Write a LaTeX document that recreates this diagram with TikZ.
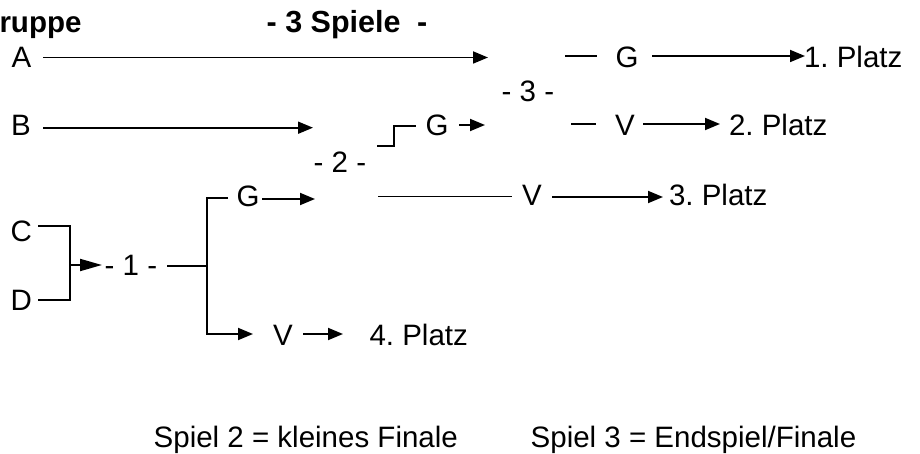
\documentclass[tikz,border=0pt]{standalone}
\usepackage{fontspec}
\setmainfont{Liberation Sans}
\usetikzlibrary{arrows.meta}
\frenchspacing
\begin{document}
\begin{tikzpicture}[x=1pt,y=-1pt,
  lbl/.style={anchor=base west,inner sep=0pt,outer sep=0pt,font=\fontsize{29.5}{34}\selectfont\frenchspacing},
  ttl/.style={lbl,font=\fontsize{29.5}{34}\selectfont\bfseries},
  ln/.style={line width=1.8pt},
  arr/.style={ln,-{Triangle[length=15pt,width=12pt]}},
  bigarr/.style={ln,-{Triangle[length=22pt,width=12pt]}}]
\useasboundingbox (0,0) rectangle (920,454);
% titles
\node[ttl] (t1) at (-0.5,33) {ruppe};
\node[ttl,font=\fontsize{30.5}{34}\selectfont\bfseries] (t2) at (266.7,33) {- 3 Spiele \hspace{8pt}-};
% teams
\node[lbl] (A) at (11.5,68) {A};
\node[lbl] (B) at (11,136) {B};
\node[lbl] (C) at (10.6,242) {C};
\node[lbl] (D) at (10.7,310) {D};
% game labels
\node[lbl] (g1) at (104.7,276) {- 1 -};
\node[lbl] (g2) at (313.7,173) {- 2 -};
\node[lbl] (g3) at (501.7,102) {- 3 -};
% results
\node[lbl] (G1) at (236.6,207) {G};
\node[lbl] (V1) at (273,345) {V};
\node[lbl] (G2) at (425.6,136) {G};
\node[lbl] (V2) at (522,206) {V};
\node[lbl] (G3) at (615.6,68) {G};
\node[lbl] (V3) at (615,136) {V};
% places
\node[lbl] (p1) at (804,68) {1. Platz};
\node[lbl] (p2) at (729,136) {2. Platz};
\node[lbl] (p3) at (669,206) {3. Platz};
\node[lbl] (p4) at (369.5,345) {4. Platz};
% footnotes
\node[lbl] (n2) at (153.7,447) {Spiel 2 = kleines Finale};
\node[lbl] (n3) at (530.7,447) {Spiel 3 = Endspiel/Finale};
% coordinates
\coordinate (a0) at (43,57.5);   \coordinate (a1) at (488,57.5);
\coordinate (b0) at (43,127.7);  \coordinate (b1) at (313,127.7);
\coordinate (c0) at (38,226);    \coordinate (c1) at (70,226);
\coordinate (d0) at (38,300);    \coordinate (d1) at (70,300);
\coordinate (e0) at (70,265);    \coordinate (e1) at (102,265);
\coordinate (f0) at (167,266);   \coordinate (f1) at (207,266);
\coordinate (h0) at (228,198);   \coordinate (h1) at (207,198);
\coordinate (h2) at (207,334);   \coordinate (h3) at (253,334);
\coordinate (v10) at (303,334);  \coordinate (v11) at (343,334);
\coordinate (g10) at (262,199);  \coordinate (g11) at (315,199);
\coordinate (s0) at (377,145.7); \coordinate (s1) at (394,145.7);
\coordinate (s2) at (394,126);   \coordinate (s3) at (416,126);
\coordinate (g20) at (459,125);  \coordinate (g21) at (485,125);
\coordinate (l0) at (378,196.5); \coordinate (l1) at (512,196.5);
\coordinate (v20) at (552,197);  \coordinate (v21) at (663,197);
\coordinate (m0) at (565,56);    \coordinate (m1) at (597,56);
\coordinate (g30) at (652,56);   \coordinate (g31) at (805,56);
\coordinate (n0) at (571,124);   \coordinate (n1) at (596,124);
\coordinate (v30) at (643,124);  \coordinate (v31) at (720,124);
% connectors
\draw[arr] (a0) -- (a1);
\draw[arr] (b0) -- (b1);
\draw[ln] (c0) -- (c1) -- (d1) -- (d0);
\draw[bigarr] (e0) -- (e1);
\draw[ln] (f0) -- (f1);
\draw[arr] (h0) -- (h1) -- (h2) -- (h3);
\draw[arr] (v10) -- (v11);
\draw[arr] (g10) -- (g11);
\draw[ln] (s0) -- (s1) -- (s2) -- (s3);
\draw[arr] (g20) -- (g21);
\draw[ln] (l0) -- (l1);
\draw[arr] (v20) -- (v21);
\draw[ln] (m0) -- (m1);
\draw[arr] (g30) -- (g31);
\draw[ln] (n0) -- (n1);
\draw[arr] (v30) -- (v31);
\end{tikzpicture}
\end{document}
